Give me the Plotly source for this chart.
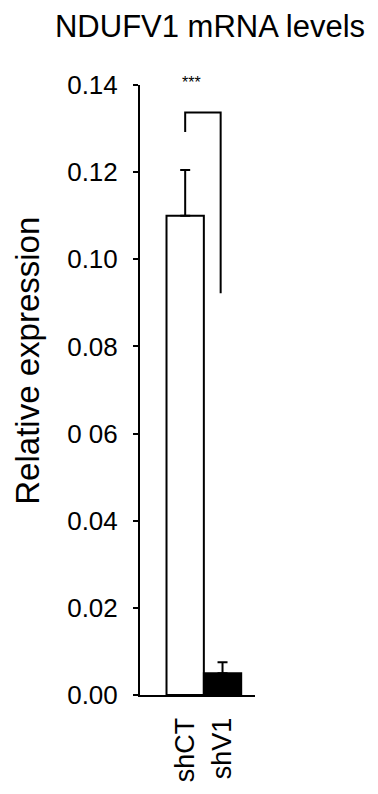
import plotly.graph_objects as go

categories = ["shCT", "shV1"]
values = [0.110, 0.005]
errors = [0.0105, 0.0025]
bar_colors = ["white", "black"]
y_tickvals = [0.00, 0.02, 0.04, 0.06, 0.08, 0.10, 0.12, 0.14]
y_ticktext = ["0.00", "0.02", "0.04", "0 06", "0.08", "0.10", "0.12", "0.14"]
bracket_top = 0.1337
bracket_left_bottom = 0.1292
bracket_right_bottom = 0.0922
significance = "***"

FONT = "Liberation Sans, Arial, sans-serif"

# the page body has an 8px default margin; figure is sized to fit the window
W, H = 370, 786

fig = go.Figure()
fig.add_trace(go.Bar(
    x=[0, 1], y=values, width=1.0,
    marker=dict(color=bar_colors, line=dict(color="black", width=2)),
    error_y=dict(type="data", symmetric=False, array=errors, arrayminus=[0, 0],
                 color="black", thickness=2, width=5),
    showlegend=False,
))

# significance bracket
fig.add_shape(type="path",
              path=f"M 0,{bracket_left_bottom} L 0,{bracket_top} L 0.95,{bracket_top} L 0.95,{bracket_right_bottom}",
              xref="x", yref="y", line=dict(color="black", width=2))
fig.add_annotation(x=0.16, y=bracket_top + 0.0045, xref="x", yref="y", text=significance,
                   showarrow=False, font=dict(family=FONT, size=16, color="black"),
                   yanchor="bottom")

fig.add_annotation(x=-0.974, y=0.548, xref="paper", yref="paper", text="Relative expression",
                   textangle=-90, showarrow=False, xanchor="center", yanchor="middle",
                   font=dict(family=FONT, size=33, color="black"))

fig.update_layout(
    width=W, height=H,
    margin=dict(l=132, r=123, t=77, b=88),
    paper_bgcolor="white", plot_bgcolor="white",
    title=dict(text="NDUFV1 mRNA levels", x=202 / W, xanchor="center", y=1 - 18 / H,
               yanchor="middle", font=dict(family=FONT, size=31, color="black")),
    font=dict(family=FONT, color="black"),
)
fig.update_xaxes(range=[-1.21, 1.87], tickvals=[0, 1], ticktext=categories, tickangle=-90,
                 showline=True, linecolor="black", linewidth=2, ticks="", showgrid=False,
                 zeroline=False, ticklabelstandoff=10,
                 tickfont=dict(family=FONT, size=27, color="black"))
fig.update_yaxes(range=[0, 0.14], tickvals=y_tickvals, ticktext=y_ticktext,
                 showline=True, linecolor="black", linewidth=2, ticks="outside", ticklen=5,
                 tickwidth=2, tickcolor="black", showgrid=False, zeroline=False,
                 ticklabelstandoff=10,
                 tickfont=dict(family=FONT, size=26, color="black"))

fig.write_html("out.html")
